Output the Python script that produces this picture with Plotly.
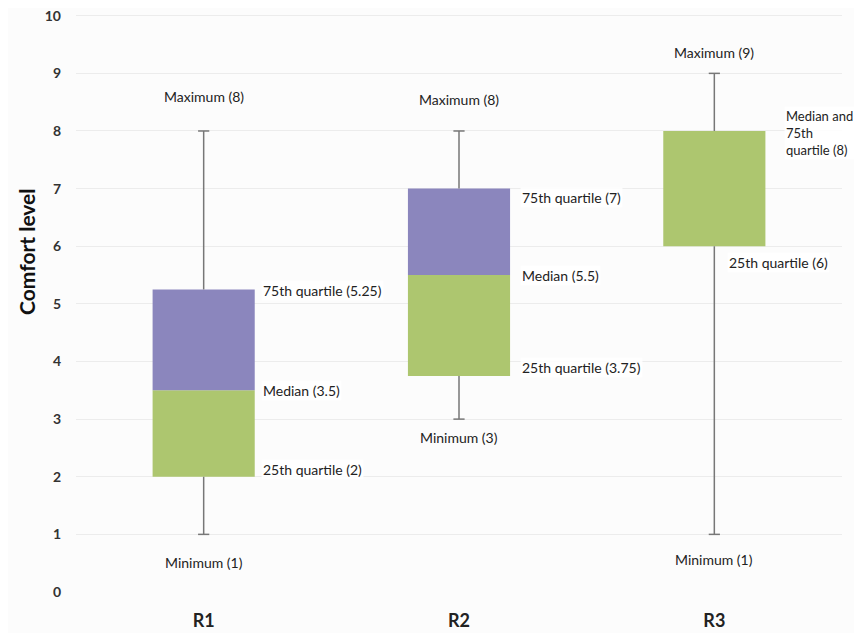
import plotly.graph_objects as go

categories = ["R1", "R2", "R3"]
minimum = [1, 3, 1]
q1 = [2, 3.75, 6]
median = [3.5, 5.5, 8]
q3 = [5.25, 7, 8]
maximum = [8, 8, 9]

y_ticks = list(range(0, 11))

# label texts and their value positions
max_labels = ["Maximum (8)", "Maximum (8)", "Maximum (9)"]
max_label_y = [8.6, 8.55, 9.36]
min_labels = ["Minimum (1)", "Minimum (3)", "Minimum (1)"]
min_label_y = [0.52, 2.68, 0.57]

side_labels = [
    # (category, y, text, xshift, font size)
    ("R1", 5.24, "75th quartile (5.25)", 57, 14),
    ("R1", 3.49, "Median (3.5)", 57, 14),
    ("R1", 2.12, "25th quartile (2)", 57, 14),
    ("R2", 6.85, "75th quartile (7)", 61, 14),
    ("R2", 5.49, "Median (5.5)", 61, 14),
    ("R2", 3.9, "25th quartile (3.75)", 61, 14),
    ("R3", 7.97, "Median and<br>75th<br>quartile (8)", 70, 13),
    ("R3", 5.71, "25th quartile (6)", 13, 14),
]

GREEN = "#adc66f"
PURPLE = "#8b86bd"
WHISKER = "#777777"

fig = go.Figure()

# lower half of box (Q1 -> median)
fig.add_trace(go.Bar(
    x=categories, y=[m - a for m, a in zip(median, q1)], base=q1,
    marker=dict(color=GREEN, line=dict(width=0)), width=0.4, showlegend=False,
    hoverinfo="skip",
))
# upper half of box (median -> Q3)
fig.add_trace(go.Bar(
    x=categories, y=[b - m for b, m in zip(q3, median)], base=median,
    marker=dict(color=PURPLE, line=dict(width=0)), width=0.4, showlegend=False,
    hoverinfo="skip",
))

# whiskers
wx, wy = [], []
for c, mn, a, b, mx in zip(categories, minimum, q1, q3, maximum):
    wx += [c, c, None, c, c, None]
    wy += [mn, a, None, b, mx, None]
fig.add_trace(go.Scatter(x=wx, y=wy, mode="lines",
                         line=dict(color=WHISKER, width=1.5),
                         showlegend=False, hoverinfo="skip"))
# caps
fig.add_trace(go.Scatter(x=categories + categories, y=minimum + maximum, mode="markers",
                         marker=dict(symbol="line-ew", size=8,
                                     line=dict(color=WHISKER, width=1.5)),
                         showlegend=False, hoverinfo="skip"))

FONT = "Lato, 'Open Sans', sans-serif"
lab_font = dict(family=FONT, size=14, color="#222222")

for c, y, t in zip(categories, max_label_y, max_labels):
    fig.add_annotation(x=c, y=y, text=t, showarrow=False, font=lab_font,
                       xanchor="center", yanchor="middle")
for c, y, t in zip(categories, min_label_y, min_labels):
    fig.add_annotation(x=c, y=y, text=t, showarrow=False, font=lab_font,
                       xanchor="center", yanchor="middle")
for c, y, t, xs, fs in side_labels:
    fig.add_annotation(x=c, y=y, text=t, showarrow=False,
                       font=dict(family=FONT, size=fs, color="#222222"),
                       xanchor="left", yanchor="middle", xshift=xs, align="left",
                       bgcolor="rgba(255,255,255,0.9)")

# y-axis title (placed above the plot's vertical centre, as in the original)
fig.add_annotation(xref="paper", yref="y", x=0, y=5.9, xshift=-50,
                   text="Comfort level", textangle=-90, showarrow=False,
                   xanchor="center", yanchor="middle",
                   font=dict(family=FONT, size=21, color="#111111", weight="bold"))

fig.update_layout(
    width=862, height=633, autosize=False,
    margin=dict(l=68, r=28, t=6, b=49, autoexpand=False),
    paper_bgcolor="#fcfcfc", plot_bgcolor="#fcfcfc",
    barmode="overlay", bargap=0.6,
    font=dict(family=FONT),
    xaxis=dict(
        categoryorder="array", categoryarray=categories,
        range=[-0.5, 2.5], autorange=False,
        showgrid=False, showline=False, zeroline=False, ticks="",
        tickfont=dict(family=FONT, size=18, color="#222222", weight="bold"),
        ticklabelstandoff=16, automargin=False,
    ),
    yaxis=dict(
        range=[0, 10.03], autorange=False, tickvals=y_ticks,
        showgrid=True, gridcolor="#ececec",
        gridwidth=1, zeroline=False, showline=False, ticks="",
        tickfont=dict(family=FONT, size=14, color="#333333", weight="bold"),
        ticklabelstandoff=14, automargin=False, ticklabeloverflow="allow",
    ),
)

fig.write_html("out.html")
